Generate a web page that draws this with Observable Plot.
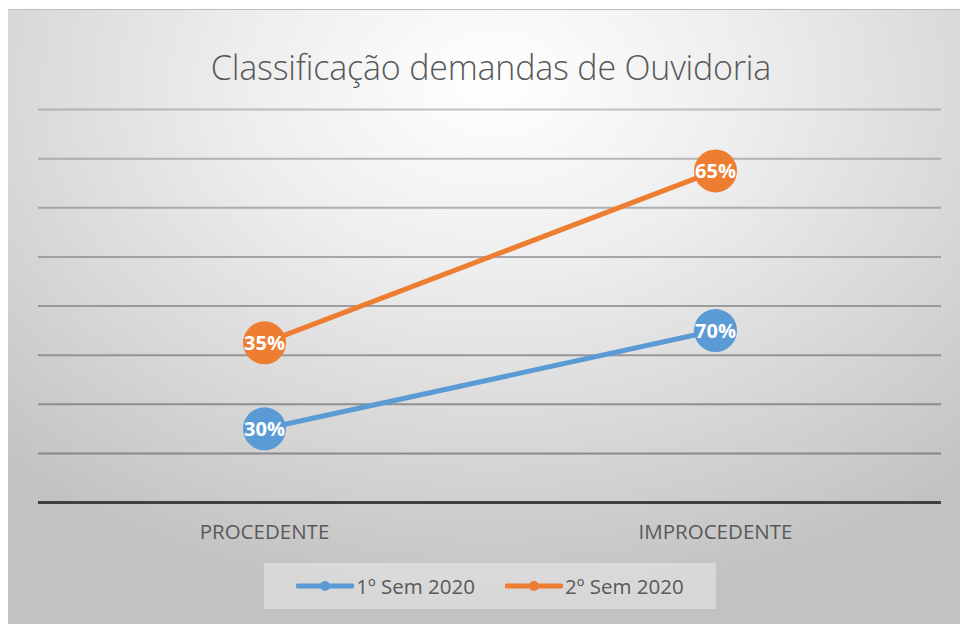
<!DOCTYPE html>
<html>
<head>
<meta charset="utf-8">
<script src="https://cdn.jsdelivr.net/npm/d3@7"></script>
<script src="https://cdn.jsdelivr.net/npm/@observablehq/plot@0.6"></script>
<style>
  html, body { margin: 0; padding: 0; background: #ffffff; }
  body { width: 960px; height: 624px; position: relative; overflow: hidden; font-family: "Open Sans", sans-serif; }
  #frame {
    position: absolute; left: 8px; top: 9px; width: 952px; height: 615px;
    background: radial-gradient(ellipse 75% 85% at 51% 12%, #ffffff 0%, #eeeeee 35%, #d8d8d8 68%, #c2c2c2 100%);
    border-top: 1px solid #bdbdbd;
  }
  #title {
    position: absolute; left: 0; top: 44px; width: 982px; text-align: center;
    font-size: 34px; line-height: 46px; color: #595959; font-weight: 300; letter-spacing: -0.2px;
  }
  #chart { position: absolute; left: 0; top: 0; }
  #legend {
    position: absolute; left: 264px; top: 563px; width: 452px; height: 46px;
    background: rgba(255,255,255,0.35);
    display: flex; align-items: center; justify-content: center; gap: 30px;
    font-size: 20.5px; color: #595959;
  }
  .item { display: flex; align-items: center; gap: 2px; }
</style>
</head>
<body>
<div id="frame"></div>
<div id="title">Classificação demandas de Ouvidoria</div>
<div id="chart"></div>
<div id="legend"></div>
<script>
const categories = ["PROCEDENTE", "IMPROCEDENTE"];
const seriesNames = ["1º Sem 2020", "2º Sem 2020"];
const sem1 = [30, 70];
const sem2 = [35, 65];
const colors = ["#5B9BD5", "#ED7D31"];
const yTicks = [20, 40, 60, 80, 100, 120, 140, 160];

const data = [];
[sem1, sem2].forEach((vals, s) => {
  vals.forEach((v, i) => data.push({cat: categories[i], series: seriesNames[s], value: v}));
});

const plot = Plot.plot({
  width: 960,
  height: 560,
  marginLeft: 38,
  marginRight: 19,
  marginTop: 109,
  marginBottom: 58,
  style: {background: "transparent", fontFamily: "Open Sans, sans-serif"},
  x: {type: "point", domain: categories, padding: 0.5, label: null},
  y: {domain: [0, 160], axis: null},
  color: {domain: seriesNames, range: colors},
  marks: [
    Plot.ruleY(yTicks, {stroke: "#7f7f7f", strokeWidth: 2, strokeOpacity: d => 0.95 - d / 320}),
    Plot.ruleY([0], {stroke: "#404040", strokeWidth: 3}),
    Plot.axisX({tickSize: 0, tickPadding: 22, fontSize: 20.5, color: "#595959", label: null}),
    Plot.lineY(data, Plot.stackY2({x: "cat", y: "value", z: "series", stroke: "series", strokeWidth: 5, order: null})),
    Plot.dot(data, Plot.stackY2({x: "cat", y: "value", z: "series", fill: "series", r: 21.5, order: null})),
    Plot.text(data, Plot.stackY2({x: "cat", y: "value", z: "series", text: d => d.value + "%", fill: "white", fontSize: 20, fontWeight: "bold", dy: 1, order: null}))
  ]
});
document.getElementById("chart").appendChild(plot);

const legend = document.getElementById("legend");
seriesNames.forEach((name, i) => {
  const item = document.createElement("div");
  item.className = "item";
  item.innerHTML = `<svg width="58" height="14"><line x1="2" x2="56" y1="7" y2="7" stroke="${colors[i]}" stroke-width="5" stroke-linecap="round"/><circle cx="29" cy="7" r="5" fill="${colors[i]}"/></svg><span>${name}</span>`;
  legend.appendChild(item);
});
</script>
</body>
</html>
